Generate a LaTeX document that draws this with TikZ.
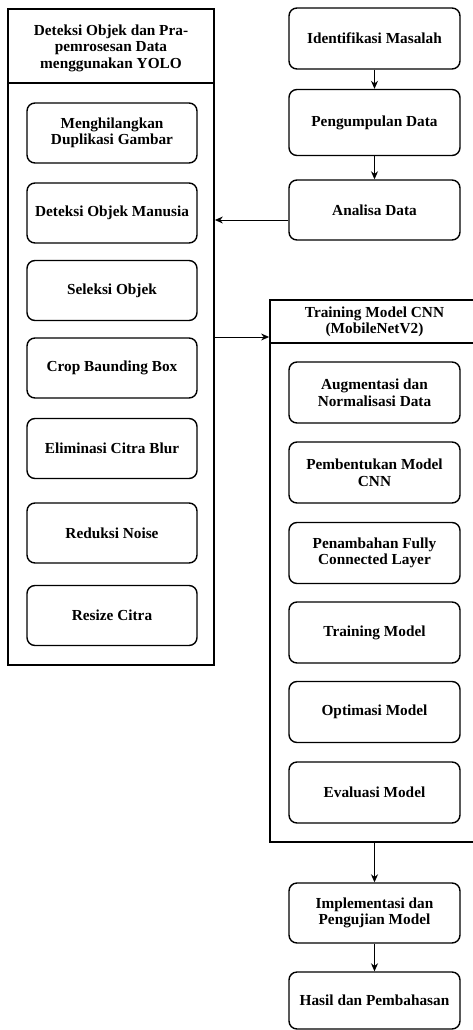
\documentclass[tikz,border=0pt]{standalone}
\usepackage{fontspec}
\setmainfont{Liberation Serif}
\usetikzlibrary{arrows.meta}
\begin{document}
\begin{tikzpicture}[x=1pt,y=-1pt,
  txt/.style={align=center, font=\fontsize{15.3}{16.6}\selectfont\bfseries},
  stepbox/.style={txt, draw, line width=1.4pt, rounded corners=8pt, minimum width=170pt, minimum height=60pt, inner sep=0pt},
  outer/.style={draw, line width=1.8pt, inner sep=0pt},
  arr/.style={-{Stealth[length=8pt,width=7pt]}, line width=0.9pt}]
\useasboundingbox (0,0) rectangle (472,1030);

% left container
\node[outer, minimum width=206pt, minimum height=656pt] (Lbox) at (111,337) {};
\draw[line width=1.8pt] (Lbox.west |- 0,83) -- (Lbox.east |- 0,83);
\node[txt] (Lhead) at (111,48) {Deteksi Objek dan Pra-\\pemrosesan Data\\menggunakan YOLO};
\node[stepbox] (l1) at (112,133) {Menghilangkan\\Duplikasi Gambar};
\node[stepbox] (l2) at (112,213) {Deteksi Objek Manusia};
\node[stepbox] (l3) at (112,290.5) {Seleksi Objek};
\node[stepbox] (l4) at (112,368) {Crop Baunding Box};
\node[stepbox] (l5) at (112,448.5) {Eliminasi Citra Blur};
\node[stepbox] (l6) at (112,533) {Reduksi Noise};
\node[stepbox] (l7) at (112,615.5) {Resize Citra};

% right top
\node[stepbox, minimum width=171pt, minimum height=61pt] (r1) at (374.5,38.5) {Identifikasi Masalah};
\node[stepbox, minimum width=171pt, minimum height=66pt] (r2) at (374.5,122.5) {Pengumpulan Data};
\node[stepbox, minimum width=171pt, minimum height=60pt] (r3) at (374.5,210) {Analisa Data};

% training container
\node[outer, minimum width=209pt, minimum height=542pt] (Tbox) at (374.5,571) {};
\draw[line width=1.8pt] (Tbox.west |- 0,343) -- (Tbox.east |- 0,343);
\node[txt] (Thead) at (374.5,322) {Training Model CNN\\(MobileNetV2)};
\node[stepbox, minimum width=171pt, minimum height=61pt] (t1) at (374.5,392.5) {Augmentasi dan\\Normalisasi Data};
\node[stepbox, minimum width=171pt, minimum height=61pt] (t2) at (374.5,472.5) {Pembentukan Model\\CNN};
\node[stepbox, minimum width=171pt, minimum height=61pt] (t3) at (374.5,553) {Penambahan Fully\\Connected Layer};
\node[stepbox, minimum width=171pt, minimum height=61pt] (t4) at (374.5,632.5) {Training Model};
\node[stepbox, minimum width=171pt, minimum height=61pt] (t5) at (374.5,712) {Optimasi Model};
\node[stepbox, minimum width=171pt, minimum height=61pt] (t6) at (374.5,792.5) {Evaluasi Model};

% bottom
\node[stepbox, minimum width=171pt, minimum height=60pt] (b1) at (374.5,913) {Implementasi dan\\Pengujian Model};
\node[stepbox, minimum width=171pt, minimum height=57pt] (b2) at (374.5,1000.5) {Hasil dan Pembahasan};

% connectors
\draw[arr] (r1) -- (r2);
\draw[arr] (r2) -- (r3);
\draw[arr] ([yshift=-10pt]r3.west) -- ([yshift=-10pt]r3.west -| Lbox.east);
\draw[arr] (Lbox.east) -- (Lbox.east -| Tbox.west);
\draw[arr] (Tbox) -- (b1);
\draw[arr] (b1) -- (b2);
\end{tikzpicture}
\end{document}
